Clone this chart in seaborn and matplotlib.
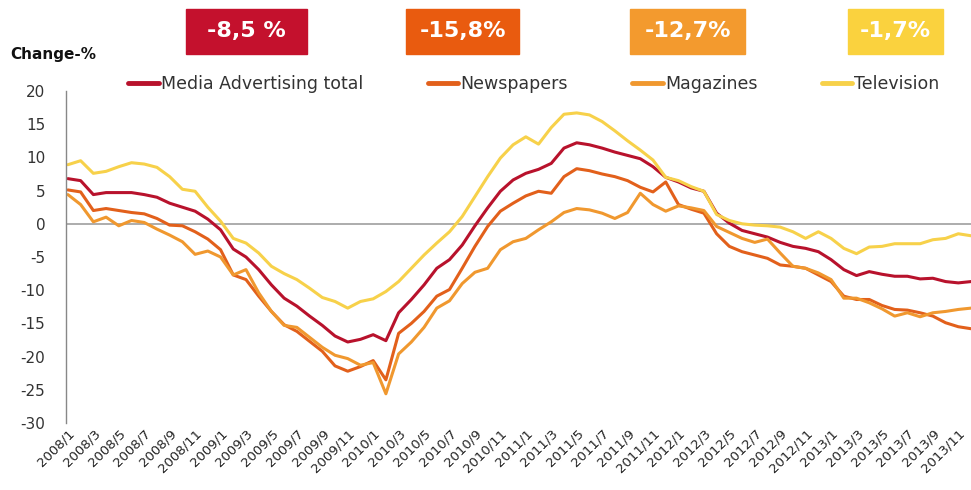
import matplotlib
matplotlib.use('Agg')
import matplotlib.pyplot as plt
from matplotlib.patches import Rectangle
import pandas as pd
import seaborn as sns

sns.set_style('white')
plt.rcParams['font.family'] = ['DejaVu Sans']
plt.rcParams['axes.unicode_minus'] = False

# monthly change-% 2008/1 .. 2013/12
total = [6.8, 6.5, 4.4, 4.7, 4.7, 4.7, 4.4, 4.0, 3.1, 2.5, 1.9, 0.7,
         -0.9, -3.8, -5.0, -6.9, -9.2, -11.2, -12.4, -13.9, -15.3, -16.9, -17.8, -17.4,
         -16.7, -17.6, -13.4, -11.4, -9.2, -6.7, -5.4, -3.2, -0.3, 2.4, 4.9, 6.6,
         7.6, 8.2, 9.1, 11.4, 12.2, 11.9, 11.4, 10.8, 10.3, 9.8, 8.6, 7.0,
         6.3, 5.4, 4.9, 1.6, 0.1, -1.0, -1.5, -2.0, -2.8, -3.4, -3.7, -4.2,
         -5.4, -6.9, -7.8, -7.2, -7.6, -7.9, -7.9, -8.3, -8.2, -8.7, -8.9, -8.7]
newspapers = [5.1, 4.8, 2.0, 2.3, 2.0, 1.7, 1.5, 0.8, -0.2, -0.3, -1.2, -2.3,
              -3.9, -7.7, -8.4, -10.9, -13.2, -15.2, -16.2, -17.7, -19.2, -21.4, -22.2, -21.5,
              -20.6, -23.5, -16.5, -15.0, -13.2, -10.9, -9.9, -6.7, -3.4, -0.4, 1.9, 3.1,
              4.2, 4.9, 4.6, 7.1, 8.3, 8.0, 7.5, 7.1, 6.5, 5.5, 4.8, 6.3,
              2.9, 2.2, 1.6, -1.5, -3.4, -4.2, -4.7, -5.2, -6.2, -6.4, -6.7, -7.7,
              -8.7, -10.9, -11.4, -11.4, -12.3, -12.9, -13.0, -13.4, -13.9, -14.9, -15.5, -15.8]
magazines = [4.4, 2.9, 0.3, 1.0, -0.3, 0.5, 0.2, -0.8, -1.7, -2.7, -4.6, -4.1,
             -5.0, -7.7, -6.9, -10.4, -13.2, -15.3, -15.6, -17.1, -18.6, -19.8, -20.3, -21.3,
             -20.9, -25.6, -19.6, -17.8, -15.6, -12.7, -11.6, -9.0, -7.3, -6.7, -3.9, -2.7,
             -2.2, -0.9, 0.3, 1.7, 2.3, 2.1, 1.6, 0.8, 1.7, 4.6, 2.9, 1.9,
             2.7, 2.4, 2.0, -0.4, -1.3, -2.2, -2.8, -2.3, -4.4, -6.4, -6.7, -7.4,
             -8.4, -11.2, -11.2, -11.9, -12.8, -13.9, -13.4, -14.0, -13.4, -13.2, -12.9, -12.7]
television = [8.9, 9.5, 7.6, 7.9, 8.6, 9.2, 9.0, 8.5, 7.1, 5.2, 4.9, 2.5,
              0.4, -2.2, -2.9, -4.4, -6.4, -7.5, -8.4, -9.7, -11.1, -11.7, -12.7, -11.7,
              -11.3, -10.2, -8.7, -6.7, -4.7, -2.9, -1.2, 1.1, 4.1, 7.1, 9.9, 11.9,
              13.1, 12.0, 14.5, 16.5, 16.7, 16.4, 15.4, 14.0, 12.5, 11.1, 9.6, 7.0,
              6.5, 5.6, 4.9, 1.4, 0.5, 0.0, -0.2, -0.3, -0.5, -1.2, -2.2, -1.2,
              -2.2, -3.7, -4.5, -3.5, -3.4, -3.0, -3.0, -3.0, -2.4, -2.2, -1.5, -1.8]

series_names = ['Media Advertising total', 'Newspapers', 'Magazines', 'Television']
colors = ['#B8122C', '#E2601B', '#F0982F', '#F7D14A']
months = [f'{2008 + i // 12}/{i % 12 + 1}' for i in range(72)]

box_texts = ['-8,5 %', '-15,8%', '-12,7%', '-1,7%']
box_colors = ['#C4112D', '#E95B0F', '#F39A2E', '#FAD23E']

df = pd.DataFrame({'t': list(range(72)) * 4,
                   'value': total + newspapers + magazines + television,
                   'series': [s for s in series_names for _ in range(72)]})

fig = plt.figure(figsize=(9.71, 4.90), dpi=100)
ax = fig.add_axes([66 / 971, 1 - 423 / 490, 1 - 66 / 971, 332 / 490])

sns.lineplot(data=df, x='t', y='value', hue='series', palette=colors,
             linewidth=2.2, ax=ax, legend=True)

ax.axhline(0, color='#A6A6A6', lw=1.3, zorder=0)
ax.set_xlim(-0.15, 71)
ax.set_ylim(-30, 20)
ax.set_yticks(range(-30, 21, 5))
ax.set_xticks(range(0, 72, 2))
ax.set_xticklabels(months[::2], rotation=45, ha='right', rotation_mode='anchor',
                   fontsize=9.5, color='#222222')
ax.tick_params(axis='y', length=0, pad=15, labelsize=11, labelcolor='#333333')
ax.tick_params(axis='x', length=0, pad=3)
ax.set_xlabel('')
ax.set_ylabel('')
for side in ['top', 'right', 'bottom']:
    ax.spines[side].set_visible(False)
ax.spines['left'].set_color('#888888')
ax.spines['left'].set_linewidth(1)

handles, labels = ax.get_legend_handles_labels()
ax.legend(handles, labels, ncol=4, loc='center left', bbox_to_anchor=(0.069, 1.02),
          frameon=False, fontsize=12.5, handlelength=1.75, handletextpad=0.12,
          columnspacing=3.72, labelcolor='#333333', borderaxespad=0, borderpad=0)
for h in ax.get_legend().legend_handles:
    h.set_linewidth(3.5)

fig.text(10 / 971, 1 - 55 / 490, 'Change-%', fontsize=11, fontweight='bold',
         va='center', ha='left', color='#111111')

box_pos = [(186, 307), (406, 519), (630, 745), (848, 943)]
for (x0, x1), txt, c in zip(box_pos, box_texts, box_colors):
    fig.patches.append(Rectangle((x0 / 971, 1 - 54 / 490), (x1 - x0) / 971, 45 / 490,
                                 transform=fig.transFigure, color=c, zorder=1))
    fig.text((x0 + x1) / 2 / 971, 1 - 31 / 490, txt, color='white', fontsize=16,
             fontweight='bold', ha='center', va='center', zorder=2)

fig.savefig('out.png', dpi=100)
